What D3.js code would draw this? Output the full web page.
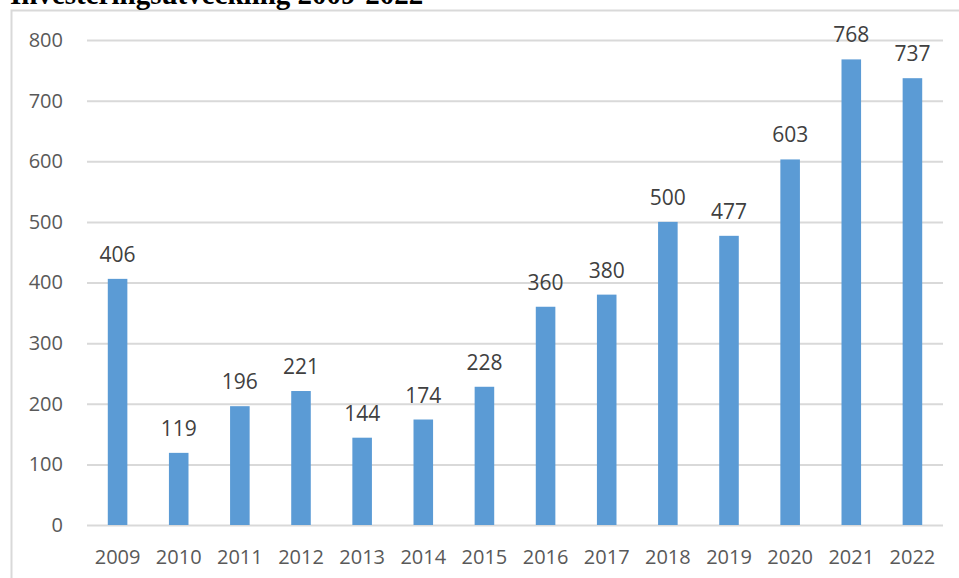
<!DOCTYPE html>
<html>
  <head>
    <meta charset="UTF-8" />
    <title>Investeringsutveckling 2009-2022</title>
    <style>
      body { margin: 0; background: #fff; }
      svg { display: block; }
    </style>
  </head>
  <body>
    <svg></svg>
    <script src="https://d3js.org/d3.v7.min.js"></script>
    <script>
      // chart data
      var years = ["2009", "2010", "2011", "2012", "2013", "2014", "2015",
        "2016", "2017", "2018", "2019", "2020", "2021", "2022"];
      var values = [406, 119, 196, 221, 144, 174, 228, 360, 380, 500, 477, 603, 768, 737];
      var yTicks = [0, 100, 200, 300, 400, 500, 600, 700, 800];
      var title = "Investeringsutveckling 2009-2022";

      let width = 959, height = 578;
      let svg = d3.select("svg").attr("width", width).attr("height", height);

      // chart area frame (only top and left edges show in the crop)
      svg.append("path")
        .attr("d", "M11.5,578 V10.5 H959")
        .attr("fill", "none")
        .attr("stroke", "#d9d9d9")
        .attr("stroke-width", 2);

      // title, clipped by the top edge like in the source image
      svg.append("text")
        .attr("x", 10)
        .attr("y", 4)
        .attr("font-family", "Liberation Serif")
        .attr("font-weight", "bold")
        .attr("font-size", 29)
        .attr("fill", "#000")
        .text(title);

      var x = d3.scaleBand().domain(years).range([87, 943]).paddingInner(0.68).paddingOuter(0.34);
      var y = d3.scaleLinear().domain([0, 800]).range([525, 40]);

      // gridlines
      svg.append("g")
        .selectAll("line")
        .data(yTicks)
        .enter()
        .append("line")
        .attr("x1", 87)
        .attr("x2", 943)
        .attr("y1", d => y(d) + 0.5)
        .attr("y2", d => y(d) + 0.5)
        .attr("stroke", "#d9d9d9")
        .attr("stroke-width", 2);

      // y axis labels
      let yAxis = d3.axisLeft(y).tickValues(yTicks).tickSize(0).tickPadding(0);
      let gy = svg.append("g").attr("transform", "translate(63,0)").call(yAxis);
      gy.select(".domain").remove();
      gy.selectAll("text")
        .attr("font-family", "Open Sans")
        .attr("font-size", 20)
        .attr("fill", "#595959");

      // bars
      svg.append("g")
        .selectAll("rect")
        .data(values)
        .enter()
        .append("rect")
        .attr("x", (d, i) => x(years[i]))
        .attr("width", x.bandwidth())
        .attr("y", d => y(d))
        .attr("height", d => y(0) - y(d))
        .attr("fill", "#5b9bd5");

      // value labels
      svg.append("g")
        .selectAll("text")
        .data(values)
        .enter()
        .append("text")
        .attr("x", (d, i) => x(years[i]) + x.bandwidth() / 2)
        .attr("y", d => y(d) - 17)
        .attr("text-anchor", "middle")
        .attr("font-family", "Open Sans")
        .attr("font-size", 21)
        .attr("fill", "#404040")
        .text(d => d);

      // x axis labels
      let xAxis = d3.axisBottom(x).tickSize(0).tickPadding(0);
      let gx = svg.append("g").attr("transform", "translate(0,550)").call(xAxis);
      gx.select(".domain").remove();
      gx.selectAll("text")
        .attr("font-family", "Open Sans")
        .attr("font-size", 20)
        .attr("fill", "#595959");
    </script>
  </body>
</html>
